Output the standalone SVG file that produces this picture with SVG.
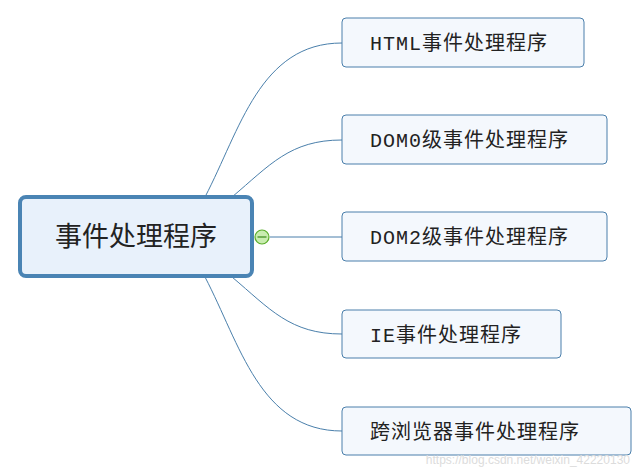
<svg xmlns="http://www.w3.org/2000/svg" width="644" height="467" viewBox="0 0 644 467">
<style>
.c{fill:none;stroke:#4a7fab;stroke-width:1}
.n rect{fill:#f4f8fd;stroke:#4a7fab;stroke-width:1}
.n text{font-family:"Liberation Mono","Noto Sans CJK SC",monospace;font-size:20px;letter-spacing:1px;fill:#222}
</style>
<rect width="644" height="467" fill="#fff"/>
<g id="connectors">
<path class="c" d="M205,197 C240,130 260,43 342,43"/>
<path class="c" d="M232,197 C270,165 290,140 342,140"/>
<path class="c" d="M270,237 L342,237"/>
<path class="c" d="M232,277 C270,309 290,334 342,334"/>
<path class="c" d="M205,277 C240,344 260,431 342,431"/>
</g>
<g id="root">
<rect x="20" y="197" width="232" height="79" rx="6" fill="#e8f1fb" stroke="#4a84b4" stroke-width="4"/>
<text x="136" y="246" text-anchor="middle" font-family="Liberation Serif,'Noto Sans CJK SC',serif" font-size="27" fill="#222">事件处理程序</text>
<circle cx="262" cy="237" r="7" fill="#c9ecb0" stroke="#5aad2a" stroke-width="1.2"/>
<line x1="257.5" y1="237" x2="266.5" y2="237" stroke="#3a8a1a" stroke-width="1.2"/>
</g>
<g id="n1" class="n"><rect x="342" y="18" width="242" height="49" rx="4"/><text x="370" y="50">HTML事件处理程序</text></g>
<g id="n2" class="n"><rect x="342" y="115" width="265" height="49" rx="4"/><text x="370" y="147">DOM0级事件处理程序</text></g>
<g id="n3" class="n"><rect x="342" y="212" width="265" height="49" rx="4"/><text x="370" y="244">DOM2级事件处理程序</text></g>
<g id="n4" class="n"><rect x="342" y="310" width="219" height="48" rx="4"/><text x="370" y="342">IE事件处理程序</text></g>
<g id="n5" class="n"><rect x="342" y="407" width="289" height="48" rx="4"/><text x="370" y="439">跨浏览器事件处理程序</text></g>
<text x="630" y="464" text-anchor="end" font-family="Liberation Sans,sans-serif" font-size="12" fill="#dcdcdc">https://blog.csdn.net/weixin_42220130</text>
</svg>
